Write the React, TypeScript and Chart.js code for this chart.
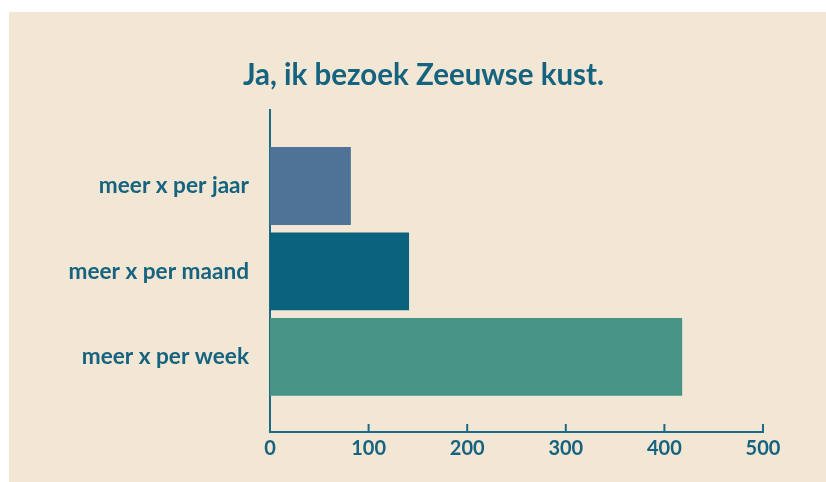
import React, { useEffect, useRef } from "react";
import { Chart, registerables } from "chart.js";

Chart.register(...registerables);

const categories = ["meer x per jaar", "meer x per maand", "meer x per week"];
const values = [82, 141, 418];
const barColors = ["#4e7396", "#0b627f", "#459486"];
const xTicks = [0, 100, 200, 300, 400, 500];
const titleText = "Ja, ik bezoek Zeeuwse kust.";

const TEXT = "#16637f";
const AXIS = "#1d6a86";
const BG = "#f2e6d4";

export default function App() {
  const ref = useRef<HTMLCanvasElement | null>(null);

  useEffect(() => {
    if (!ref.current) return;
    const upTicks = {
      id: "upTicks",
      afterDraw(chart: any) {
        const { ctx, chartArea, scales } = chart;
        ctx.save();
        ctx.strokeStyle = AXIS;
        ctx.lineWidth = 2;
        xTicks.forEach((t) => {
          const x = scales.x.getPixelForValue(t);
          ctx.beginPath();
          ctx.moveTo(x, chartArea.bottom);
          ctx.lineTo(x, chartArea.bottom - 8);
          ctx.stroke();
        });
        ctx.restore();
      },
    };
    const chart = new Chart(ref.current, {
      type: "bar",
      data: {
        datasets: [
          {
            data: values.map((v, i) => ({ x: v, y: i })) as any,
            backgroundColor: barColors,
            borderWidth: 0,
            barPercentage: 0.912,
            categoryPercentage: 1,
          },
        ],
      },
      options: {
        indexAxis: "y",
        animation: false,
        responsive: false,
        maintainAspectRatio: false,
        layout: { padding: { top: 0, left: 12, right: 0, bottom: 0 } },
        plugins: {
          legend: { display: false },
          tooltip: { enabled: false },
          title: {
            display: true,
            text: titleText,
            color: TEXT,
            font: { family: "Lato", size: 29.5, weight: "bold" },
            padding: { top: 45.3, bottom: 17.3 },
          },
        },
        scales: {
          x: {
            type: "linear",
            min: 0,
            max: 500,
            afterBuildTicks: (axis: any) => {
              axis.ticks = xTicks.map((v) => ({ value: v }));
            },
            afterFit: (s: any) => {
              s.height = 50;
            },
            grid: { display: false, drawTicks: false },
            border: { display: true, color: AXIS, width: 2 },
            ticks: {
              color: TEXT,
              padding: 5,
              font: { family: "Lato", size: 20, weight: "bold" },
            },
          },
          y: {
            type: "linear",
            reverse: true,
            offset: false,
            bounds: "data",
            min: -0.89,
            max: 2.88,
            afterBuildTicks: (axis: any) => {
              axis.ticks = categories.map((_, i) => ({ value: i }));
            },
            afterFit: (s: any) => {
              s.width = 249;
            },
            grid: { display: false, drawTicks: false, offset: false },
            border: { display: true, color: AXIS, width: 2 },
            ticks: {
              color: TEXT,
              padding: 21,
              font: { family: "Lato", size: 22.6, weight: "bold" },
              callback: (v: any) => categories[v] ?? "",
            },
          },
          yR: {
            type: "linear",
            position: "right",
            display: true,
            min: 0,
            max: 1,
            afterFit: (s: any) => {
              s.width = 63;
            },
            grid: { display: false, drawTicks: false },
            border: { display: false },
            ticks: { display: false },
          },
        },
      },
      plugins: [upTicks],
    } as any);
    return () => chart.destroy();
  }, []);

  return (
    <div
      style={{
        position: "fixed",
        left: 9,
        top: 12,
        width: 817,
        height: 470,
        background: BG,
      }}
    >
      <canvas ref={ref} width={817} height={470} style={{ display: "block" }} />
    </div>
  );
}
